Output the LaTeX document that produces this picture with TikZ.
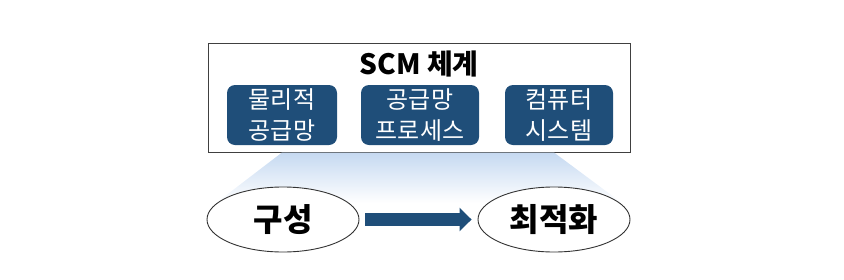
\documentclass[tikz,border=0pt]{standalone}
\usepackage{fontspec}
\setmainfont{Noto Sans CJK KR}
\usepackage{tikz}
\usetikzlibrary{arrows.meta,positioning,shapes.geometric}
\definecolor{dblue}{HTML}{1F4E79}
\definecolor{pblue}{HTML}{C5D9F1}
\definecolor{dframe}{HTML}{404040}
\tikzset{
  frm/.style={draw=dframe,line width=1pt,minimum width=422pt,minimum height=109pt,inner sep=0pt},
  blk/.style={fill=dblue,draw=none,rounded corners=8pt,minimum height=60pt,text=white,
              align=center,font=\fontsize{24}{31}\selectfont,inner sep=0pt},
  ell/.style={ellipse,draw=black!80,line width=0.9pt,fill=white,minimum width=152pt,
              minimum height=65pt,inner sep=0pt,font=\fontsize{32}{36}\selectfont\bfseries},
  barr/.style={-{Triangle[length=12pt,width=23pt]},line width=13pt,dblue,shorten <=6pt,shorten >=6pt},
}
\begin{document}
\begin{tikzpicture}[x=1pt,y=-1pt]
\useasboundingbox (0,0) rectangle (844,279);
% SCM frame
\node[frm] (frame) at (419,97.5) {};
\node[font=\fontsize{28}{32}\selectfont\bfseries] (title) at (419,64) {SCM 체계};
\node[blk,minimum width=110pt] (phys) at (282,115) {물리적\\공급망};
\node[blk,minimum width=118pt] (proc) at (420,115) {공급망\\프로세스};
\node[blk,minimum width=108pt] (comp) at (559,115) {컴퓨터\\시스템};
% light beam
\shade[top color=pblue,bottom color=white] (282,152.5) -- (554,152.5) -- (622,203) -- (216,203) -- cycle;
% bottom line
\node[ell] (build) at (283,219.5) {구성};
\node[ell] (opt) at (554,219.5) {최적화};
\draw[barr] (build.east) -- (opt.west);
\end{tikzpicture}
\end{document}
